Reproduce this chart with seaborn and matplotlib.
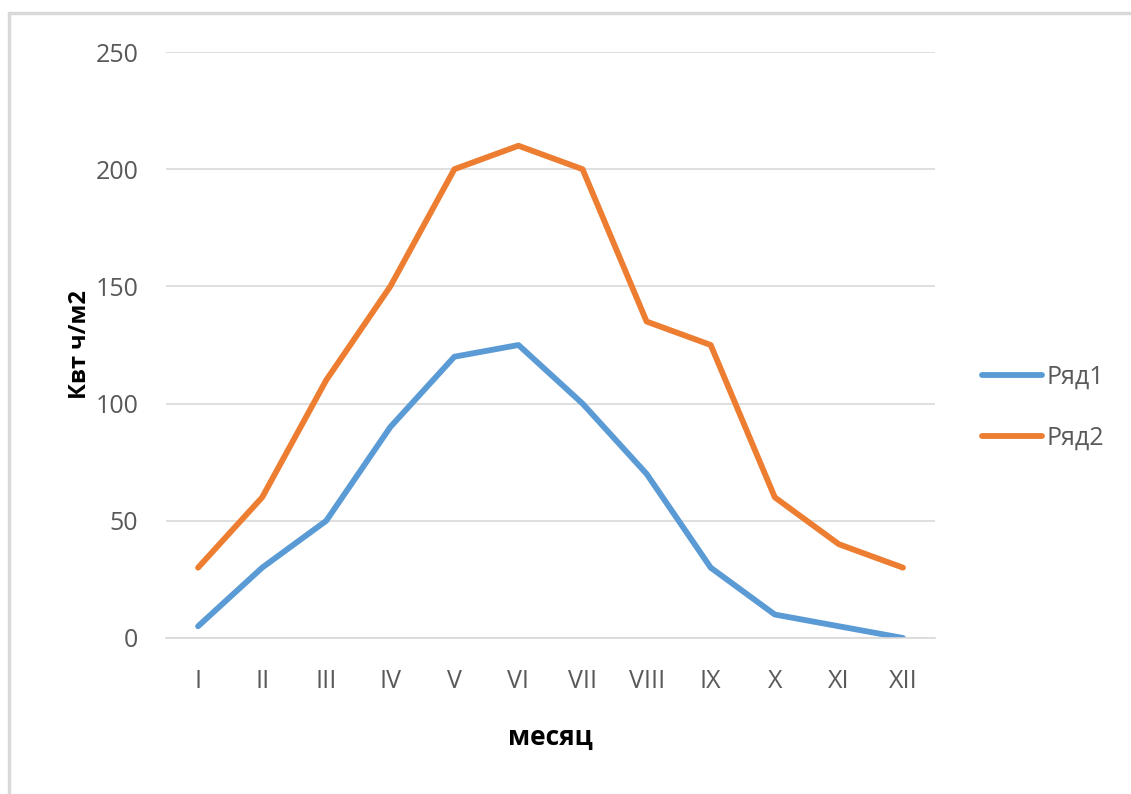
import pandas as pd
import seaborn as sns
import matplotlib.pyplot as plt
from matplotlib.lines import Line2D

months = ["I", "II", "III", "IV", "V", "VI", "VII", "VIII", "IX", "X", "XI", "XII"]
row1 = [5, 30, 50, 90, 120, 125, 100, 70, 30, 10, 5, 0]
row2 = [30, 60, 110, 150, 200, 210, 200, 135, 125, 60, 40, 30]
series_names = ["Ряд1", "Ряд2"]
colors = ["#5B9BD5", "#ED7D31"]

df = pd.DataFrame({
    "pos": list(range(len(months))) * 2,
    "value": row1 + row2,
    "series": [series_names[0]] * len(months) + [series_names[1]] * len(months),
})

sns.set_theme(style="white")
plt.rcParams["font.family"] = ["Open Sans", "DejaVu Sans"]

fig = plt.figure(figsize=(11.31, 7.94), dpi=100)
ax = fig.add_axes([0.1468, 0.1965, 0.8267 - 0.1468, 0.9345 - 0.1965])

sns.lineplot(data=df, x="pos", y="value", hue="series", palette=colors,
             linewidth=4.2, ax=ax, legend=False, sort=False)
for line in ax.lines:
    line.set_solid_capstyle("round")
    line.set_solid_joinstyle("round")

ax.set_xlim(-0.5, len(months) - 0.5)
ax.set_ylim(0, 250)
ax.set_yticks(range(0, 251, 50))
ax.set_xticks(range(len(months)))
ax.set_xticklabels(months)
ax.yaxis.grid(True, color="#D9D9D9", linewidth=1.2)
ax.set_axisbelow(True)
for s in ["top", "right", "left"]:
    ax.spines[s].set_visible(False)
ax.spines["bottom"].set_color("#D9D9D9")
ax.spines["bottom"].set_linewidth(1.2)
ax.tick_params(axis="both", length=0, labelsize=18, colors="#595959")
ax.tick_params(axis="y", pad=20)
ax.tick_params(axis="x", pad=22)

ax.set_xlabel("месяц", fontsize=19, fontweight="bold", color="black", labelpad=22)
ax.set_ylabel("Квт ч/м2", fontsize=17, fontweight="bold", color="black")
ax.yaxis.set_label_coords(-0.096, 0.5)

handles = [Line2D([0], [0], color=c, linewidth=4.2, solid_capstyle="round") for c in colors]
fig.legend(handles, series_names, loc="center left", bbox_to_anchor=(0.848, 0.486),
           frameon=False, fontsize=18, labelcolor="#595959", handlelength=2.4,
           handletextpad=0.2, labelspacing=1.45)

# chart border (top and left edges visible)
fig.add_artist(Line2D([9 / 1131, 9 / 1131], [0, 1 - 13 / 794], color="#D9D9D9", linewidth=2.5))
fig.add_artist(Line2D([9 / 1131, 1], [1 - 13 / 794, 1 - 13 / 794], color="#D9D9D9", linewidth=2.5))

fig.savefig("out.png", dpi=100)
